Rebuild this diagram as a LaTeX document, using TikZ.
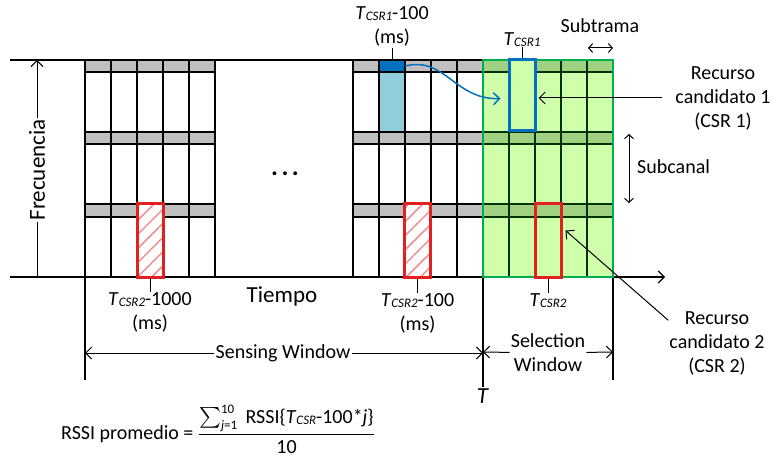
\RequirePackage{fix-cm}
\documentclass[tikz,border=0pt]{standalone}
\usepackage{amsmath}
\usepackage{fontspec}
\setmainfont{Carlito}
\usetikzlibrary{arrows.meta,positioning,patterns.meta,calc}
\definecolor{bandgray}{RGB}{192,192,192}
\definecolor{selgreen}{RGB}{0,176,80}
\definecolor{selfill}{RGB}{208,255,172}
\definecolor{selband}{RGB}{160,208,130}
\definecolor{csrblue}{RGB}{0,112,192}
\definecolor{lightblue}{RGB}{146,205,220}
\definecolor{csrred}{RGB}{226,32,32}
\tikzstyle{lbl} = [inner sep=1pt, align=center, font=\fontsize{20}{24}\selectfont]
\tikzstyle{biglbl} = [inner sep=1pt, font=\fontsize{23}{27}\selectfont]
\tikzstyle{gridline} = [black, line width=1.2pt]
\tikzstyle{selline} = [black!80!green, line width=1.2pt]
\tikzstyle{tick} = [black, line width=1pt]
\tikzstyle{hatched} = [draw=csrred, line width=3pt, preaction={fill=white}, pattern={Lines[angle=45,distance=10pt,line width=1.5pt]}, pattern color=csrred!50, minimum width=26pt, minimum height=73pt, inner sep=0pt]
\tikzstyle{csrbox} = [line width=3pt, minimum width=26pt, inner sep=0pt]
\newcommand{\tcsr}[1]{\textit{T}\raisebox{-1pt}{\fontsize{13}{13}\selectfont\itshape CSR#1}}

\begin{document}
\begin{tikzpicture}[x=1pt, y=-1pt, node distance=12pt, >={Straight Barb[length=6pt,width=12pt]}]
\useasboundingbox (0,0) rectangle (771,457);

% selection window and bands
\fill[selfill] (483,60) rectangle (613,277);
\fill[bandgray] (85,60) rectangle (215,72) (85,132) rectangle (215,144) (85,204) rectangle (215,217);
\fill[bandgray] (353,60) rectangle (483,72) (353,132) rectangle (483,144) (353,204) rectangle (483,217);
\fill[selband] (483,60) rectangle (613,72) (483,132) rectangle (613,144) (483,204) rectangle (613,217);
\fill[lightblue] (379,72) rectangle (405,132);
\node[fill=csrblue, minimum width=26pt, minimum height=12pt, inner sep=0pt] (dcell) at (392,66) {};

% grid
\foreach \x in {85,111,137,163,189,215,353,379,405,431,457}
  \draw[gridline] (\x,60) -- (\x,277);
\foreach \x in {509,535,561,587}
  \draw[selline] (\x,60) -- (\x,277);
\foreach \y in {72,132,144,204,217}{
  \draw[gridline] (85,\y) -- (215,\y);
  \draw[gridline] (353,\y) -- (483,\y);
  \draw[selline] (483,\y) -- (613,\y);
}

% axes
\coordinate (topL) at (10,60);
\coordinate (topR) at (483,60);
\coordinate (axL) at (10,277);
\coordinate (axR) at (665,277);
\draw[gridline] (topL) -- (topR);
\draw[gridline, ->] (axL) -- (axR);
\draw[gridline] (85,277) -- (85,380);
\draw[gridline] (613,277) -- (613,380);
\node[biglbl] (T) at (483,396) {\textit{T}};
\draw[gridline] (483,277) -- (T.north);
\draw[selgreen, line width=2.5pt] (483,60) rectangle (613,277);

% candidate resources
\node[hatched] (r1000) at (150,240.5) {};
\node[hatched] (r100) at (417.5,240.5) {};
\node[csrbox, draw=csrred, minimum height=73pt] (csr2) at (548,240.5) {};
\node[csrbox, draw=csrblue, fill=selfill, minimum height=71pt] (csr1) at (522,95.5) {};

% labels
\node[lbl, above=of dcell] (lcsr1) {\tcsr{1}-100\\(ms)};
\node[lbl, above=11pt of csr1] (lt1) {\tcsr{1}};
\node[lbl, below=14pt of r1000] (l1000) {\tcsr{2}-1000\\(ms)};
\node[lbl, below=14pt of r100] (l100) {\tcsr{2}-100\\(ms)};
\node[lbl, below=14pt of csr2] (lt2) {\tcsr{2}};
\draw[tick] (lcsr1) -- (dcell);
\draw[tick] (lt1) -- (csr1);
\draw[tick] (r1000) -- (l1000);
\draw[tick] (r100) -- (l100);
\draw[tick] (csr2) -- (lt2);

\draw[->, csrblue, line width=1.5pt] (dcell.east) .. controls (445,56) and (455,100) .. ([xshift=-7pt,yshift=-3pt]csr1.west);

\node[biglbl, rotate=90] (freq) at (37,170) {Frecuencia};
\coordinate (fT) at (37,60);
\coordinate (fB) at (37,277);
\draw[tick] (fB) -- (freq);
\draw[tick, ->] (freq) -- (fT);

\node[biglbl] (tiempo) at (282,296) {Tiempo};
\node[inner sep=0pt, font=\fontsize{26}{26}\selectfont\bfseries] (dots) at (285,174) {.\hspace{3.5pt}.\hspace{3.5pt}.};

\node[lbl] (subtrama) at (600,26) {Subtrama};
\coordinate (stL) at (588,48);
\coordinate (stR) at (613,48);
\draw[tick, <->, >={Straight Barb[length=4pt,width=9pt]}] (stL) -- (stR);

\node[lbl, anchor=west] (subcanal) at (636,167) {Subcanal};
\coordinate (scT) at (629,134);
\coordinate (scB) at (629,203);
\draw[tick, <->, >={Straight Barb[length=4pt,width=9pt]}] (scT) -- (scB);

\node[lbl, inner xsep=13pt] (rc1) at (723,98) {Recurso\\candidato 1\\(CSR 1)};
\draw[tick, ->, shorten >=2pt] (rc1.west) -- (rc1.west -| csr1.east);
\node[lbl] (rc2) at (717,343) {Recurso\\candidato 2\\(CSR 2)};
\draw[tick, ->] (rc2.155) -- ($(csr2.east)+(3,-10)$);

% windows
\node[lbl] (sensing) at (283,353) {Sensing Window};
\coordinate (swL) at (85,353);
\coordinate (swR) at (483,353);
\draw[tick, ->] (sensing) -- (swL);
\draw[tick, ->] (sensing) -- (swR);
\node[lbl] (selection) at (548,353) {Selection\\Window};
\coordinate (selL) at (483,352);
\coordinate (selR) at (613,352);
\draw[tick, ->] (selection) -- (selL);
\draw[tick, ->] (selection) -- (selR);

% formula
\node[lbl, anchor=west] (rssi) at (60,429) {RSSI promedio = $\dfrac{\textstyle\sum\nolimits_{\text{\fontsize{13}{13}\selectfont\textit{j}=1}}^{\text{\fontsize{13}{13}\selectfont 10}}\text{ RSSI\{\tcsr{}-100*\textit{j}\}}}{\text{10}}$};
\end{tikzpicture}
\end{document}
